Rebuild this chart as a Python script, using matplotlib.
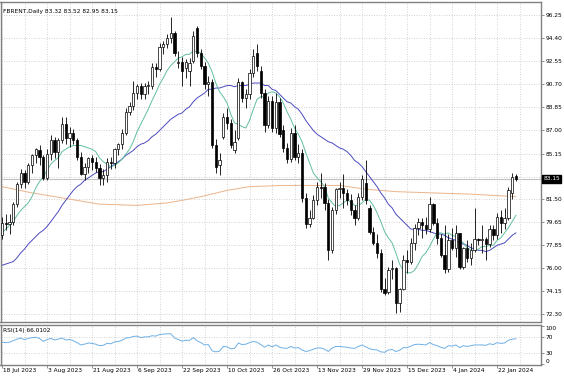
#!/usr/bin/env python3

import numpy as np
import matplotlib
matplotlib.use("Agg")
import matplotlib.pyplot as plt
from matplotlib.transforms import ScaledTranslation

# daily bars, 18 Jul 2023 .. 29 Jan 2024
opens = [78.6, 79.6, 79.5, 79.7, 81.1, 82.7, 83.6, 82.9, 84.2, 85.0,
         85.4, 84.9, 83.2, 85.1, 86.2, 85.3, 86.2, 87.5, 86.4, 86.8,
         86.2, 84.9, 83.5, 84.1, 84.8, 84.5, 84.0, 83.2, 83.4, 84.5,
         84.4, 85.5, 85.9, 86.8, 88.5, 89.0, 90.0, 90.6, 89.9, 90.6,
         90.6, 92.1, 91.9, 93.7, 93.9, 94.4, 94.8, 92.4, 92.5, 92.0,
         91.8, 92.6, 95.2, 93.2, 92.2, 90.7, 90.9, 85.8, 84.2, 86.5,
         88.1, 87.6, 85.4, 86.4, 90.9, 89.6, 89.9, 91.6, 93.2, 91.8,
         90.0, 87.4, 89.4, 87.2, 89.3, 87.0, 85.6, 84.7, 86.8, 84.9,
         85.2, 81.6, 79.5, 80.0, 81.4, 82.5, 82.5, 81.2, 77.4, 80.6,
         82.3, 82.4, 82.0, 81.4, 80.6, 80.0, 81.7, 82.8, 80.8, 78.9,
         78.0, 77.2, 74.3, 74.1, 75.9, 76.0, 73.2, 74.3, 76.6, 76.5,
         78.0, 79.2, 79.7, 79.4, 79.1, 81.1, 79.6, 78.4, 77.0, 75.9,
         78.2, 77.6, 78.8, 76.1, 77.6, 76.8, 77.4, 78.3, 78.2, 78.3,
         77.9, 79.1, 78.6, 80.1, 79.6, 80.0, 82.0, 83.32]
highs = [80.1, 80.3, 80.3, 81.3, 82.9, 83.9, 83.8, 84.4, 85.1, 85.6,
         85.8, 85.0, 85.5, 86.6, 86.5, 86.4, 88.1, 88.1, 87.3, 87.1,
         86.4, 85.3, 84.4, 84.9, 85.0, 84.9, 84.3, 83.9, 84.8, 84.9,
         85.6, 86.0, 87.1, 88.8, 89.3, 91.0, 90.7, 90.8, 90.8, 91.0,
         92.4, 92.4, 94.0, 94.2, 94.7, 96.1, 95.0, 93.4, 92.9, 92.7,
         92.8, 95.0, 95.4, 93.5, 92.5, 91.4, 91.1, 86.3, 85.2, 88.4,
         88.8, 87.9, 87.0, 91.2, 91.0, 90.3, 91.9, 93.5, 93.9, 92.2,
         90.3, 89.8, 89.8, 90.0, 89.6, 87.4, 86.0, 87.2, 87.4, 85.9,
         85.5, 82.0, 80.6, 81.8, 82.9, 83.6, 82.8, 81.5, 80.9, 82.4,
         82.9, 83.5, 82.3, 81.9, 81.0, 82.0, 83.4, 84.6, 81.0, 79.3,
         78.7, 77.5, 75.2, 76.1, 76.6, 76.1, 74.4, 77.0, 77.4, 78.4,
         79.5, 80.0, 80.0, 80.1, 81.7, 81.2, 80.0, 78.7, 79.4, 78.7,
         79.2, 79.4, 78.8, 77.7, 78.2, 78.0, 80.8, 78.4, 79.4, 78.5,
         79.4, 79.4, 80.4, 80.6, 80.8, 82.5, 83.6, 83.52]
lows = [78.3, 79.0, 78.7, 79.4, 80.9, 82.4, 82.4, 82.7, 83.6, 84.4,
        84.2, 83.0, 83.0, 84.6, 84.8, 84.0, 86.0, 85.9, 85.7, 85.9,
        84.6, 83.4, 83.0, 83.6, 83.8, 83.7, 82.6, 82.6, 82.9, 83.9,
        84.0, 85.0, 85.5, 86.6, 88.2, 88.6, 89.5, 89.5, 89.5, 89.9,
        90.3, 91.3, 91.8, 93.1, 93.6, 94.0, 93.0, 92.0, 90.6, 91.2,
        90.6, 92.4, 92.9, 91.9, 90.3, 89.8, 85.6, 83.6, 83.4, 86.3,
        87.1, 85.6, 85.2, 86.2, 89.3, 88.8, 89.5, 91.3, 91.8, 89.6,
        86.9, 87.2, 86.9, 86.8, 86.5, 85.3, 84.4, 84.5, 84.6, 84.4,
        81.3, 79.2, 79.3, 79.9, 81.0, 81.6, 80.6, 76.6, 77.2, 80.3,
        81.6, 80.8, 81.0, 80.2, 79.4, 79.8, 81.4, 81.1, 78.7, 77.8,
        76.8, 74.1, 73.8, 73.9, 75.1, 72.4, 72.5, 74.2, 75.6, 76.3,
        77.4, 78.6, 78.4, 78.7, 78.9, 79.4, 77.9, 76.9, 75.6, 75.7,
        77.4, 76.9, 75.9, 75.9, 76.5, 76.2, 77.3, 77.8, 77.2, 76.6,
        77.7, 78.2, 78.3, 78.8, 79.1, 79.8, 81.5, 82.95]
closes = [79.6, 79.5, 79.7, 81.1, 82.7, 83.6, 82.9, 84.2, 85.0, 85.5,
          84.9, 83.2, 85.1, 86.2, 85.3, 86.2, 87.5, 86.4, 86.8, 86.2,
          84.9, 83.5, 84.1, 84.8, 84.5, 84.0, 83.2, 83.4, 84.5, 84.4,
          85.5, 85.9, 86.8, 88.5, 89.0, 90.0, 90.6, 89.9, 90.6, 90.6,
          92.1, 91.9, 93.7, 93.9, 94.4, 94.8, 93.2, 92.5, 91.8, 92.5,
          92.4, 94.6, 93.2, 92.2, 90.7, 90.9, 85.8, 84.1, 84.6, 88.1,
          87.6, 85.8, 86.1, 90.9, 89.6, 89.9, 91.6, 93.0, 92.2, 90.0,
          87.4, 89.4, 87.2, 89.3, 86.7, 85.6, 84.7, 86.8, 84.9, 85.2,
          81.6, 79.5, 80.0, 81.4, 82.5, 82.4, 81.2, 77.4, 80.6, 82.3,
          82.4, 82.0, 81.4, 80.6, 80.0, 81.7, 83.1, 81.4, 78.9, 78.0,
          77.2, 74.3, 74.0, 75.8, 76.0, 73.2, 74.3, 76.6, 76.5, 78.0,
          79.2, 79.7, 79.4, 79.1, 81.1, 79.6, 78.4, 77.0, 75.9, 78.2,
          77.6, 78.8, 76.1, 77.6, 76.8, 77.4, 78.3, 78.2, 78.3, 77.9,
          79.1, 78.6, 80.1, 79.6, 80.0, 82.2, 83.3, 83.15]

# fast average (green), one value per bar
ma_fast = [78.8, 79.1, 79.4, 79.7, 80.2, 80.6, 80.9, 81.2, 81.7, 82.4,
           82.9, 83.3, 83.8, 84.3, 84.6, 84.8, 85.3, 85.5, 85.7, 85.8,
           85.8, 85.8, 85.7, 85.6, 85.5, 85.3, 84.8, 84.5, 84.3, 84.1,
           84.2, 84.4, 84.7, 85.1, 85.5, 86.1, 86.9, 87.5, 88.1, 88.7,
           89.4, 90.0, 90.7, 91.2, 91.8, 92.2, 92.5, 92.8, 92.9, 93.1,
           93.1, 93.4, 93.3, 93.2, 92.8, 92.4, 91.7, 90.8, 90.1, 89.7,
           89.2, 88.3, 87.6, 87.5, 87.3, 87.2, 87.8, 88.7, 89.5, 89.7,
           89.7, 90.0, 90.1, 90.0, 89.7, 89.2, 88.5, 87.9, 87.2, 86.7,
           86.1, 85.2, 84.4, 83.6, 83.2, 82.9, 82.5, 81.6, 81.2, 80.9,
           81.0, 81.2, 81.4, 81.3, 81.0, 81.0, 81.2, 81.5, 81.4, 81.0,
           80.4, 79.7, 78.9, 78.4, 78.0, 77.2, 76.3, 75.8, 75.6, 75.6,
           75.8, 76.3, 76.9, 77.2, 77.7, 78.3, 78.8, 78.8, 78.7, 78.8,
           78.6, 78.5, 78.2, 78.0, 77.6, 77.4, 77.4, 77.5, 77.7, 77.7,
           77.8, 77.8, 78.2, 78.4, 78.8, 79.2, 79.7, 80.2]
# slower average (blue)
ma_slow = [76.2, 76.3, 76.4, 76.5, 76.8, 77.2, 77.5, 77.9, 78.2, 78.5,
           78.8, 79.0, 79.3, 79.7, 80.1, 80.5, 81.0, 81.4, 81.8, 82.2,
           82.5, 82.7, 83.0, 83.2, 83.4, 83.6, 83.7, 83.7, 83.9, 84.1,
           84.3, 84.5, 84.7, 85.0, 85.2, 85.4, 85.7, 85.9, 86.0, 86.2,
           86.5, 86.7, 87.0, 87.3, 87.6, 87.9, 88.1, 88.3, 88.4, 88.7,
           88.9, 89.3, 89.6, 89.8, 90.0, 90.3, 90.3, 90.4, 90.4, 90.5,
           90.6, 90.6, 90.5, 90.6, 90.6, 90.6, 90.7, 90.8, 90.8, 90.8,
           90.6, 90.6, 90.3, 90.2, 89.9, 89.6, 89.3, 89.2, 88.9, 88.7,
           88.3, 87.8, 87.4, 87.0, 86.7, 86.5, 86.3, 86.1, 86.0, 85.8,
           85.6, 85.5, 85.3, 85.0, 84.6, 84.4, 84.1, 83.7, 83.3, 82.9,
           82.5, 82.0, 81.6, 81.1, 80.8, 80.3, 80.0, 79.7, 79.4, 79.1,
           79.1, 79.1, 79.0, 79.0, 78.9, 78.8, 78.7, 78.7, 78.6, 78.4,
           78.3, 78.2, 78.0, 77.9, 77.8, 77.6, 77.5, 77.4, 77.4, 77.3,
           77.4, 77.6, 77.8, 77.9, 78.0, 78.3, 78.6, 78.8]
# long average (orange), read at a few bars
ma_long_idx = [0, 8, 16, 26, 36, 44, 48, 53, 60, 66, 75, 90, 97, 105, 115, 125, 137]
ma_long = [82.5, 82.0, 81.6, 81.1, 81.0, 81.2, 81.4, 81.7, 82.2, 82.5,
           82.6, 82.6, 82.3, 82.1, 82.0, 81.9, 81.7]
rsi_vals = [57, 56, 57, 61, 65, 68, 64, 67, 69, 70,
            67, 59, 64, 67, 63, 65, 68, 63, 64, 61,
            56, 50, 52, 55, 54, 52, 48, 49, 54, 53,
            58, 59, 62, 68, 69, 72, 73, 69, 71, 71,
            74, 73, 77, 78, 79, 79, 68, 64, 60, 62,
            62, 69, 61, 56, 50, 51, 35, 32, 34, 46,
            45, 40, 41, 55, 51, 52, 56, 59, 57, 51,
            44, 50, 45, 50, 44, 42, 41, 46, 42, 43,
            37, 33, 35, 39, 42, 42, 39, 33, 42, 46,
            46, 45, 44, 42, 41, 46, 50, 45, 40, 38,
            37, 32, 31, 37, 38, 33, 36, 43, 43, 47,
            51, 52, 51, 50, 56, 51, 48, 44, 41, 48,
            47, 50, 43, 48, 46, 48, 50, 50, 50, 49,
            53, 51, 56, 54, 55, 62, 65, 66]

date_idx = [0, 12, 24, 36, 48, 60, 72, 84, 96, 108, 120, 132]
date_labels = ["18 Jul 2023", "3 Aug 2023", "21 Aug 2023", "6 Sep 2023",
               "22 Sep 2023", "10 Oct 2023", "26 Oct 2023", "13 Nov 2023",
               "29 Nov 2023", "15 Dec 2023", "4 Jan 2024", "22 Jan 2024"]
price_labels = ["72.30", "74.15", "76.00", "77.85", "79.65", "81.50", "83.30",
                "85.15", "87.00", "88.85", "90.70", "92.55", "94.40", "96.25"]
rsi_levels = [0, 30, 70, 100]

FS = 4.2
FRAME = "#808080"
GRID = "#c4c4c4"


def style_axes(ax):
    for s in ax.spines.values():
        s.set_color(FRAME)
        s.set_linewidth(1.0)
    ax.set_facecolor("white")
    ax.set_xlim(-0.4, 143.7)
    ax.set_xticks(date_idx)
    ax.set_xticks(range(0, 144, 6), minor=True)
    ax.grid(True, which="both", axis="x", ls=(0, (1, 2)), color=GRID, lw=0.6)
    ax.yaxis.tick_right()
    ax.tick_params(axis="y", length=2.2, width=0.6, pad=1, labelsize=FS,
                   colors="black")
    ax.tick_params(axis="y", color=FRAME)
    ax.tick_params(axis="x", which="minor", length=0)


def draw_candles(ax):
    x = np.arange(len(closes))
    o = np.array(opens)
    c = np.array(closes)
    ax.vlines(x, lows, highs, color="black", lw=0.6, zorder=3)
    up = c >= o
    body = np.maximum(np.abs(c - o), 0.06)
    ax.bar(x[up], body[up], bottom=o[up], width=0.62, color="white",
           edgecolor="black", lw=0.5, zorder=4)
    ax.bar(x[~up], body[~up], bottom=c[~up], width=0.62, color="black",
           edgecolor="black", lw=0.5, zorder=4)


def main():
    x = np.arange(len(closes))

    fig = plt.figure(figsize=(5.64, 3.76), dpi=100)
    ax = fig.add_axes([0.5 / 564, 1 - 322 / 376, 540.5 / 564, 320 / 376])
    rax = fig.add_axes([0.5 / 564, 1 - 364.5 / 376, 540.5 / 564, 39.5 / 376],
                       sharex=ax)

    style_axes(ax)
    ax.set_ylim(71.66, 97.29)
    ax.set_yticks([float(p) for p in price_labels])
    ax.set_yticklabels([p if p != "83.30" else "" for p in price_labels])
    ax.grid(True, axis="y", ls=(0, (1, 2)), color=GRID, lw=0.6)
    ax.tick_params(axis="x", which="both", length=0, labelbottom=False)

    ax.axhline(closes[-1], color="#c0c0c0", lw=0.8, zorder=2)
    ax.plot(ma_long_idx, ma_long, color="#eab48a", lw=0.7, zorder=2)
    ax.plot(x, ma_slow, color="#4b4bc0", lw=0.7, zorder=2)
    ax.plot(x, ma_fast, color="#62bfa0", lw=0.7, zorder=2)
    draw_candles(ax)

    ax.text(1.004, closes[-1], "83.15", transform=ax.get_yaxis_transform(),
            fontsize=FS, color="white", va="center", ha="left",
            bbox=dict(boxstyle="square,pad=0.25", fc="black", ec="black"),
            zorder=6, clip_on=False)

    style_axes(rax)
    rax.set_ylim(-0.8, 101.8)
    rax.set_yticks(rsi_levels)
    rax.set_yticklabels([str(v) for v in rsi_levels])
    for lvl in (30, 70):
        rax.axhline(lvl, ls=(0, (1, 2)), color=GRID, lw=0.6)
    rax.plot(x, rsi_vals, color="#6fb0e6", lw=0.7)
    labels = rax.get_yticklabels()
    labels[0].set_va("bottom")
    labels[-1].set_va("top")

    rax.set_xticklabels(date_labels)
    rax.tick_params(axis="x", which="major", length=2.2, width=0.6,
                    color=FRAME, pad=0.6, labelsize=FS)
    shift = ScaledTranslation(1.2 / 100, 0, fig.dpi_scale_trans)
    for lbl in rax.get_xticklabels():
        lbl.set_ha("left")
        lbl.set_transform(lbl.get_transform() + shift)

    fig.text(3 / 564, 1 - 12 / 376, "FBRENT,Daily 83.32 83.52 82.95 83.15",
             fontsize=FS, va="center", ha="left")
    fig.text(3 / 564, 1 - 330.5 / 376, "RSI(14) 66.0102",
             fontsize=FS, va="center", ha="left")

    fig.savefig("out.png", dpi=100, facecolor="white")


if __name__ == "__main__":
    main()
